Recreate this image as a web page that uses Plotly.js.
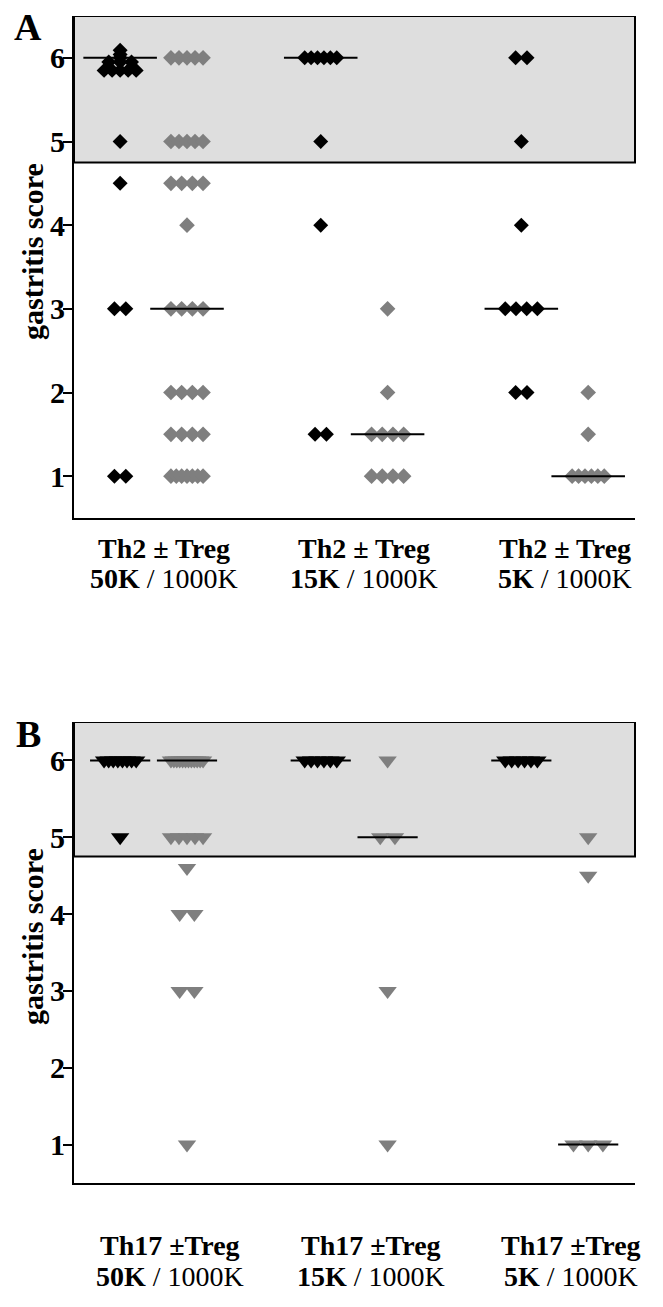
<!DOCTYPE html>
<html>
<head>
<meta charset="utf-8">
<script src="https://cdn.plot.ly/plotly-3.0.1.min.js"></script>
<style>
  html, body { margin: 0; padding: 0; background: #fff; }
  #chart { width: 663px; height: 1307px; }
</style>
</head>
<body>
<div id="chart"></div>
<script>
// Gastritis scores (black = Th alone, grey = Th + Treg)
const groupsA = ['Th2 ± Treg', 'Th2 ± Treg', 'Th2 ± Treg'];
const groupsB = ['Th17 ±Treg', 'Th17 ±Treg', 'Th17 ±Treg'];
const doses = ['50K', '15K', '5K'];
const tregDose = '1000K';
const scoreTicks = [1, 2, 3, 4, 5, 6];

// panel A: Th2
const th2_50K       = [6.09, 6.04, 6.0, 5.95, 5.95, 5.95, 5.85, 5.85, 5.85, 5.85, 5.85, 5, 4.5, 3, 3, 1, 1];
const th2_50K_treg  = [6, 6, 6, 6, 6, 5, 5, 5, 5, 5, 4.5, 4.5, 4.5, 4.5, 4, 3, 3, 3, 3,
                       2, 2, 2, 2, 1.5, 1.5, 1.5, 1.5, 1, 1, 1, 1, 1, 1, 1];
const th2_15K       = [6, 6, 6, 6, 6, 6, 5, 4, 1.5, 1.5];
const th2_15K_treg  = [3, 2, 1.5, 1.5, 1.5, 1.5, 1, 1, 1, 1];
const th2_5K        = [6, 6, 5, 4, 3, 3, 3, 3, 2, 2];
const th2_5K_treg   = [2, 1.5, 1, 1, 1, 1, 1, 1];

// panel B: Th17
const th17_50K      = [6, 6, 6, 6, 6, 6, 6, 6, 5];
const th17_50K_treg = [6, 6, 6, 6, 6, 6, 6, 6, 6, 6, 6, 6, 5, 5, 5, 5, 5, 4.6, 4, 4, 3, 3, 1];
const th17_15K      = [6, 6, 6, 6, 6, 6];
const th17_15K_treg = [6, 5, 5, 3, 1];
const th17_5K       = [6, 6, 6, 6, 6, 6];
const th17_5K_treg  = [5, 4.5, 1, 1, 1];

const BLACK = '#000000';
const GREY = '#7f7f7f';
const SHADE = '#dedede';
const SERIF = 'Liberation Serif, Times New Roman, serif';
const W = 663, H = 1307;

// column positions: black at p, grey at p+1
const colPos = [1, 4, 7];

// spread equal scores sideways like a dot plot
function spread(vals, centre, maxStep) {
    const counts = {};
    vals.forEach(v => counts[v] = (counts[v] || 0) + 1);
    const seen = {};
    return vals.map(v => {
        const n = counts[v];
        const i = seen[v] = (seen[v] === undefined ? 0 : seen[v] + 1);
        const step = n > 1 ? Math.min(maxStep, 0.48 / (n - 1)) : 0;
        return centre + (i - (n - 1) / 2) * step;
    });
}

function median(vals) {
    const s = vals.slice().sort((a, b) => a - b);
    const m = s.length % 2 ? s[(s.length - 1) / 2] : (s[s.length / 2 - 1] + s[s.length / 2]) / 2;
    return Math.round(m * 2) / 2;   // scores are in half steps
}

const traces = [];
const medians = [];

function addColumn(vals, centre, color, symbol, size, xa, ya, halfW, maxStep) {
    traces.push({
        x: spread(vals, centre, maxStep), y: vals,
        xaxis: xa, yaxis: ya,
        mode: 'markers', type: 'scatter',
        marker: { symbol: symbol, size: size, color: color, line: { width: 0 } },
        showlegend: false, hoverinfo: 'y'
    });
    const m = median(vals);
    medians.push({
        x: [centre - halfW, centre + halfW], y: [m, m],
        xaxis: xa, yaxis: ya,
        mode: 'lines', type: 'scatter',
        line: { color: BLACK, width: 2 },
        showlegend: false, hoverinfo: 'skip'
    });
}

const setA = [[th2_50K, th2_50K_treg], [th2_15K, th2_15K_treg], [th2_5K, th2_5K_treg]];
const setB = [[th17_50K, th17_50K_treg], [th17_15K, th17_15K_treg], [th17_5K, th17_5K_treg]];

setA.forEach((pair, g) => {
    addColumn(pair[0], colPos[g], BLACK, 'diamond', 11.5, 'x', 'y', 0.55, 0.17);
    addColumn(pair[1], colPos[g] + 1, GREY, 'diamond', 12, 'x', 'y', 0.55, 0.17);
});
setB.forEach((pair, g) => {
    addColumn(pair[0], colPos[g], BLACK, 'triangle-down', 16, 'x2', 'y2', 0.45, 0.22);
    addColumn(pair[1], colPos[g] + 1, GREY, 'triangle-down', 16, 'x2', 'y2', 0.45, 0.22);
});

const px = p => p / W;
const py = p => 1 - p / H;

const xBase = {
    range: [0.31, 8.7], domain: [px(74), px(635)],
    showline: true, linecolor: BLACK, linewidth: 2,
    showgrid: false, zeroline: false, showticklabels: false, ticks: '',
    fixedrange: true
};
const yBase = {
    range: [0.5, 6.5], tickvals: scoreTicks,
    ticks: 'outside', ticklen: 9, tickwidth: 2, tickcolor: BLACK,
    ticklabelstandoff: -8,
    showline: true, linecolor: BLACK, linewidth: 2,
    showgrid: false, zeroline: false,
    tickfont: { family: SERIF, size: 30, color: BLACK, weight: 'bold' },
    fixedrange: true
};

const annotations = [];
const labelFont = { family: SERIF, size: 28, color: BLACK };

function addLabels(names, xa, y1, y2, shift) {
    names.forEach((name, g) => {
        const xc = colPos[g] + 0.5 + shift;
        annotations.push({ x: xc, xref: xa, y: py(y1), yref: 'paper', text: '<b>' + name + '</b>',
            showarrow: false, font: labelFont, xanchor: 'center', yanchor: 'middle' });
        annotations.push({ x: xc, xref: xa, y: py(y2), yref: 'paper', text: '<b>' + doses[g] + '</b> / ' + tregDose,
            showarrow: false, font: labelFont, xanchor: 'center', yanchor: 'middle' });
    });
}
addLabels(groupsA, 'x', 548, 578, 0.15);
addLabels(groupsB, 'x2', 1245, 1276, 0.25);

[[252, 'A', 27], [937, 'B', 734]].forEach(([ty, letter, ly]) => {
    annotations.push({ x: px(32), xref: 'paper', y: py(ty), yref: 'paper', text: '<b>gastritis score</b>',
        textangle: -90, showarrow: false, font: { family: SERIF, size: 30, color: BLACK },
        xanchor: 'center', yanchor: 'middle' });
    annotations.push({ x: px(28), xref: 'paper', y: py(ly), yref: 'paper', text: '<b>' + letter + '</b>',
        showarrow: false, font: { family: SERIF, size: 38, color: BLACK },
        xanchor: 'center', yanchor: 'middle' });
});

const shapes = [
    { type: 'rect', xref: 'x domain', yref: 'y', x0: 0, x1: 1, y0: 4.75, y1: 6.5,
      fillcolor: SHADE, line: { color: BLACK, width: 2 }, layer: 'below' },
    { type: 'rect', xref: 'x2 domain', yref: 'y2', x0: 0, x1: 1, y0: 4.75, y1: 6.5,
      fillcolor: SHADE, line: { color: BLACK, width: 2 }, layer: 'below' }
];

const layout = {
    width: W, height: H,
    margin: { l: 0, r: 0, t: 0, b: 0 },
    paper_bgcolor: 'white', plot_bgcolor: 'rgba(0,0,0,0)',
    showlegend: false,
    xaxis: Object.assign({}, xBase, { anchor: 'y' }),
    yaxis: Object.assign({}, yBase, { anchor: 'x', domain: [py(518), py(16)] }),
    xaxis2: Object.assign({}, xBase, { anchor: 'y2' }),
    yaxis2: Object.assign({}, yBase, { anchor: 'x2', domain: [py(1183), py(722)] }),
    shapes: shapes,
    annotations: annotations
};

Plotly.newPlot('chart', traces.concat(medians), layout, { displayModeBar: false, staticPlot: true });
</script>
</body>
</html>
